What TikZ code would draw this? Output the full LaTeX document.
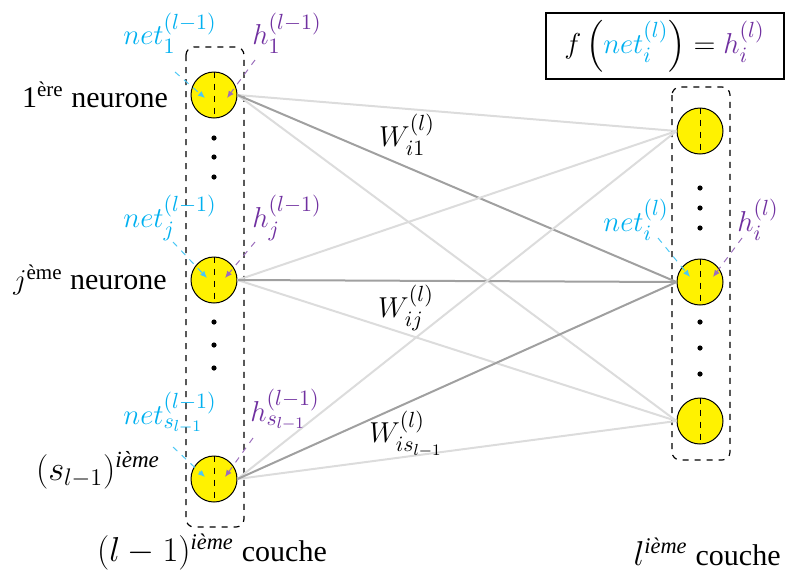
\documentclass[tikz,border=0pt]{standalone}
\usepackage{fontspec}
\setmainfont{Liberation Serif}
\usepackage{amsmath}
\usetikzlibrary{arrows.meta, calc, positioning}

\definecolor{netblue}{RGB}{0,176,240}
\definecolor{hpurple}{RGB}{112,48,160}
\definecolor{linkgray}{RGB}{220,220,220}
\definecolor{maingray}{RGB}{160,160,160}

\tikzset{
  neuron/.style={circle, draw, fill=yellow, minimum size=23pt, inner sep=0pt, line width=0.5pt},
  layerbox/.style={draw, dashed, rounded corners=4pt, line width=0.6pt},
  mathlabel/.style={inner sep=0pt, font=\fontsize{15.5}{18}\selectfont},
  netlabel/.style={mathlabel, text=netblue},
  hlabel/.style={mathlabel, text=hpurple},
  sidelabel/.style={inner sep=0pt, font=\fontsize{15}{18}\selectfont},
  netarrow/.style={netblue!70, dashed, line width=0.5pt, -{Latex[length=3.5pt, width=3pt]}},
  harrow/.style={hpurple!70, dashed, line width=0.5pt, -{Latex[length=3.5pt, width=3pt]}},
  link/.style={linkgray, line width=1pt},
  mainlink/.style={maingray, line width=1pt},
}

\begin{document}
\begin{tikzpicture}[x=0.5pt, y=-0.5pt]
    \useasboundingbox (0,0) rectangle (785,579);

    % Layer boxes
    \draw[layerbox] (186,47) rectangle (244,527);
    \draw[layerbox] (672,87) rectangle (730,460);

    % Neurons of layer l-1
    \node[neuron] (n1) at (214,95) {};
    \node[neuron] (nj) at (214,280) {};
    \node[neuron] (ns) at (214,479) {};

    % Neurons of layer l
    \node[neuron] (m1) at (700,131) {};
    \node[neuron] (mi) at (700,282) {};
    \node[neuron] (ms) at (700,421) {};

    \foreach \n in {n1,nj,ns,m1,mi,ms}
        \draw[dashed, line width=0.5pt] (\n.north) -- (\n.south);

    % Dots
    \foreach \y in {138,157,177,322,345,368}
        \fill (214,\y) circle (1.3pt);
    \foreach \y in {188,208,228,322,348,374}
        \fill (700,\y) circle (1.3pt);

    % Weights
    \foreach \a in {n1,nj,ns} {
        \draw[link] (\a.east) -- (m1.west);
        \draw[link] (\a.east) -- (ms.west);
        \draw[mainlink] (\a.east) -- (mi.west);
    }
    \node[mathlabel] (w1) at (407,135) {$W_{i1}^{(l)}$};
    \node[mathlabel] (wj) at (406,308) {$W_{ij}^{(l)}$};
    \node[mathlabel] (ws) at (406,434) {$W_{is_{l-1}}^{(l)}$};

    % net and h labels
    \node[netlabel] (net1) at (170,33) {$net_1^{(l-1)}$};
    \node[hlabel] (h1) at (287,33) {$h_1^{(l-1)}$};
    \node[netlabel] (netj) at (170,218) {$net_j^{(l-1)}$};
    \node[hlabel] (hj) at (287,218) {$h_j^{(l-1)}$};
    \node[netlabel] (nets) at (170,413) {$net_{s_{l-1}}^{(l-1)}$};
    \node[hlabel] (hs) at (285,410) {$h_{s_{l-1}}^{(l-1)}$};
    \node[netlabel] (neti) at (636,220) {$net_i^{(l)}$};
    \node[hlabel] (hi) at (758,220) {$h_i^{(l)}$};

    \draw[netarrow] ([shift={(5,39)}]net1.center) -- ([shift={(-9,3)}]n1.center);
    \draw[harrow] ([shift={(-32,27)}]h1.center) -- ([shift={(13,3)}]n1.center);
    \draw[netarrow] ([shift={(3,24)}]netj.center) -- ([shift={(-7,-2)}]nj.center);
    \draw[harrow] ([shift={(-32,24)}]hj.center) -- ([shift={(11,-2)}]nj.center);
    \draw[netarrow] ([shift={(3,34)}]nets.center) -- ([shift={(-9,-2)}]ns.center);
    \draw[harrow] ([shift={(-32,28)}]hs.center) -- ([shift={(11,-2)}]ns.center);
    \draw[netarrow] ([shift={(22,18)}]neti.center) -- ([shift={(-10,-5)}]mi.center);
    \draw[harrow] ([shift={(-16,18)}]hi.center) -- ([shift={(13,-5)}]mi.center);

    % Side labels
    \node[sidelabel] (t1) at (95,95) {1\textsuperscript{ère} neurone};
    \node[sidelabel] (tj) at (90,280) {$j$\textsuperscript{ème} neurone};
    \node[sidelabel, font=\fontsize{16.5}{19}\selectfont] (ts) at (98,470) {$(s_{l-1})^{\textit{ième}}$};
    \node[sidelabel] (lay1) at (212,552) {\fontsize{16}{19}\selectfont$(l-1)^{\textit{ième}}$ \fontsize{15}{18}\selectfont couche};
    \node[sidelabel, anchor=east] (lay2) at (781,552) {\fontsize{16}{19}\selectfont$l^{\textit{ième}}$ \fontsize{15}{18}\selectfont couche};

    % Activation
    \node[draw, line width=1pt, minimum width=119pt, minimum height=33pt, font=\fontsize{15.5}{18}\selectfont]
        (act) at (664.5,46)
        {$f\left(\textcolor{netblue}{net_i^{(l)}}\right) = \textcolor{hpurple}{h_i^{(l)}}$};
\end{tikzpicture}
\end{document}
